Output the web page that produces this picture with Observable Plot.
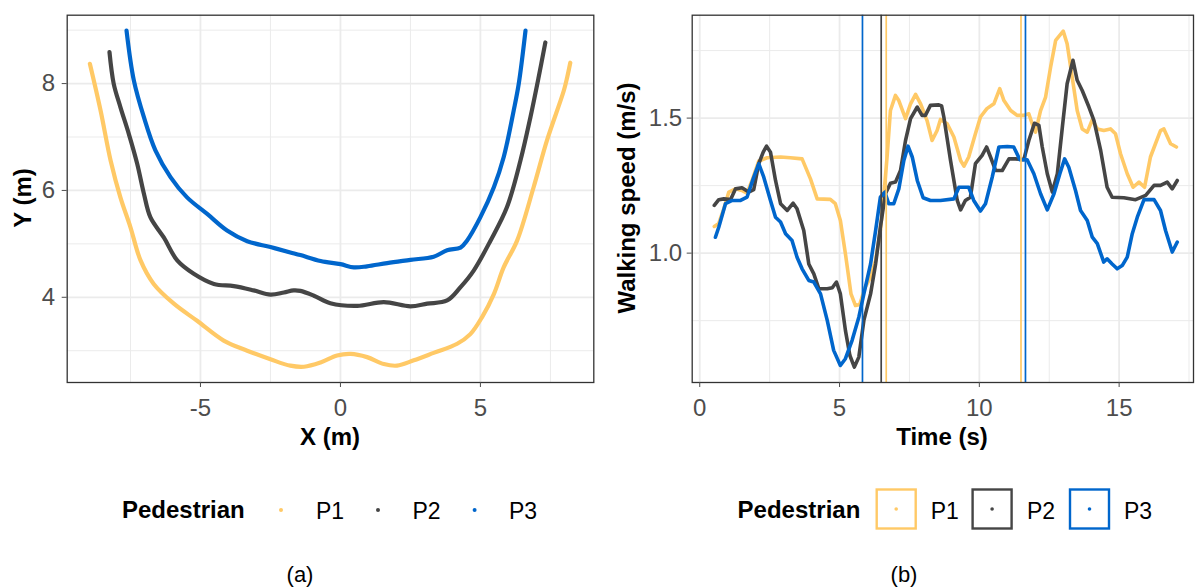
<!DOCTYPE html>
<html>
<head>
<meta charset="utf-8">
<script src="https://cdn.jsdelivr.net/npm/d3@7"></script>
<script src="https://cdn.jsdelivr.net/npm/@observablehq/plot@0.6"></script>
<style>
  html, body { margin: 0; padding: 0; background: #fff; }
  #root { position: relative; width: 1196px; height: 588px; background: #fff; overflow: hidden;
          font-family: "Liberation Sans", Arial, Helvetica, sans-serif; }
  .abs { position: absolute; white-space: nowrap; line-height: 1; }
  .ctr { transform: translate(-50%, -50%); }
  .title { font-weight: bold; font-size: 24px; color: #000; }
  .legtxt { font-size: 23px; color: #000; }
  .cap { font-size: 22px; color: #000; }
</style>
</head>
<body>
<div id="root"></div>
<script>
// ---------------- DATA ----------------
const pedestrians = ["P1", "P2", "P3"];
const pedColors = ["#FFC966", "#454545", "#0066CC"];

// (a) trajectories
const p1TrajX = [-8.95, -8.57, -8.21, -7.86, -7.5, -7.14, -6.67, -5.95, -5.12, -4.17, -3.33, -2.5, -1.79, -1.3, -0.71, -0.12, 0.36, 0.95, 1.55, 2.02, 2.62, 3.33, 4.17, 4.64, 5.06, 5.48, 5.83, 6.31, 6.9, 7.38, 7.98, 8.1, 8.21];
const p1TrajY = [8.37, 7.50, 6.56, 5.87, 5.31, 4.69, 4.25, 3.88, 3.56, 3.19, 3.0, 2.84, 2.72, 2.70, 2.78, 2.91, 2.94, 2.88, 2.75, 2.72, 2.82, 2.96, 3.13, 3.31, 3.63, 4.06, 4.56, 5.06, 6.06, 6.94, 7.87, 8.12, 8.39];
const p2TrajX = [-8.25, -8.1, -7.86, -7.56, -7.26, -7.02, -6.79, -6.31, -5.83, -5.24, -4.52, -3.81, -3.1, -2.5, -2.02, -1.67, -1.43, -0.95, -0.36, 0.6, 1.55, 2.5, 3.1, 3.81, 4.29, 4.76, 5.36, 5.95, 6.43, 6.79, 7.08, 7.32];
const p2TrajY = [8.59, 8.0, 7.56, 7.06, 6.50, 5.94, 5.50, 5.12, 4.69, 4.44, 4.25, 4.21, 4.13, 4.05, 4.09, 4.13, 4.12, 4.03, 3.89, 3.84, 3.91, 3.83, 3.88, 3.94, 4.19, 4.50, 5.06, 5.69, 6.56, 7.38, 8.12, 8.77];
const p3TrajX = [-7.64, -7.38, -7.02, -6.61, -6.07, -5.48, -4.76, -4.05, -3.33, -2.5, -1.79, -1.43, -0.71, 0, 0.48, 0.95, 1.67, 2.5, 3.33, 3.81, 4.29, 4.52, 5.0, 5.48, 5.83, 6.19, 6.37, 6.61];
const p3TrajY = [8.99, 8.06, 7.37, 6.75, 6.25, 5.87, 5.56, 5.25, 5.05, 4.94, 4.84, 4.79, 4.68, 4.62, 4.56, 4.58, 4.64, 4.70, 4.76, 4.88, 4.93, 5.06, 5.50, 6.06, 6.62, 7.50, 8.0, 8.99];

// (b) walking speed
const p1Time = [0.52, 0.68, 0.86, 1.04, 1.28, 1.51, 1.69, 1.87, 2.11, 2.41, 2.89, 3.24, 3.66, 3.96, 4.2, 4.67, 4.85, 5.03, 5.21, 5.41, 5.57, 5.72, 5.92, 6.11, 6.29, 6.46, 6.58, 6.7, 6.82, 7.0, 7.12, 7.36, 7.54, 7.72, 7.9, 8.13, 8.31, 8.49, 8.61, 8.85, 9.09, 9.33, 9.45, 9.62, 9.86, 10.04, 10.27, 10.52, 10.73, 10.88, 11.12, 11.35, 11.59, 11.77, 11.89, 12.01, 12.19, 12.37, 12.55, 12.73, 13.0, 13.14, 13.32, 13.5, 13.68, 13.86, 14.04, 14.22, 14.45, 14.69, 14.87, 15.05, 15.29, 15.5, 15.71, 15.91, 16.12, 16.3, 16.48, 16.6, 16.84, 17.05];
const p1Speed = [1.099, 1.11, 1.164, 1.226, 1.238, 1.232, 1.222, 1.269, 1.341, 1.353, 1.356, 1.353, 1.349, 1.275, 1.201, 1.199, 1.183, 1.121, 0.998, 0.849, 0.806, 0.81, 0.874, 0.911, 0.973, 1.084, 1.207, 1.356, 1.528, 1.584, 1.565, 1.498, 1.553, 1.588, 1.553, 1.491, 1.417, 1.454, 1.495, 1.479, 1.43, 1.343, 1.322, 1.356, 1.442, 1.504, 1.535, 1.553, 1.609, 1.565, 1.528, 1.51, 1.51, 1.516, 1.479, 1.448, 1.528, 1.578, 1.689, 1.788, 1.822, 1.775, 1.652, 1.528, 1.46, 1.448, 1.494, 1.46, 1.454, 1.46, 1.442, 1.368, 1.294, 1.244, 1.263, 1.244, 1.356, 1.405, 1.454, 1.46, 1.405, 1.393];
const p2Time = [0.52, 0.68, 0.86, 1.1, 1.28, 1.51, 1.75, 1.93, 2.11, 2.27, 2.39, 2.53, 2.71, 2.89, 3.13, 3.34, 3.48, 3.72, 3.9, 4.08, 4.26, 4.56, 4.74, 4.89, 5.03, 5.21, 5.37, 5.53, 5.69, 5.87, 6.11, 6.29, 6.46, 6.64, 6.82, 7.0, 7.18, 7.36, 7.54, 7.78, 7.95, 8.07, 8.25, 8.55, 8.65, 8.73, 8.97, 9.21, 9.33, 9.5, 9.68, 9.86, 10.1, 10.26, 10.4, 10.58, 10.82, 11.06, 11.3, 11.59, 11.77, 11.97, 12.13, 12.25, 12.43, 12.61, 12.79, 12.97, 13.14, 13.35, 13.5, 13.68, 13.92, 14.1, 14.34, 14.57, 14.75, 15.17, 15.59, 15.95, 16.25, 16.48, 16.72, 16.9, 17.08];
const p2Speed = [1.177, 1.198, 1.201, 1.198, 1.238, 1.242, 1.226, 1.235, 1.331, 1.374, 1.396, 1.374, 1.269, 1.183, 1.158, 1.185, 1.164, 1.084, 0.96, 0.923, 0.868, 0.868, 0.872, 0.893, 0.849, 0.714, 0.621, 0.578, 0.615, 0.751, 0.849, 0.96, 1.096, 1.22, 1.259, 1.263, 1.306, 1.417, 1.498, 1.541, 1.51, 1.51, 1.547, 1.549, 1.545, 1.504, 1.343, 1.195, 1.16, 1.195, 1.207, 1.331, 1.362, 1.393, 1.356, 1.306, 1.306, 1.349, 1.349, 1.346, 1.417, 1.481, 1.473, 1.393, 1.294, 1.226, 1.294, 1.467, 1.627, 1.714, 1.64, 1.602, 1.541, 1.491, 1.38, 1.244, 1.207, 1.205, 1.198, 1.214, 1.251, 1.251, 1.263, 1.238, 1.269];
const p3Time = [0.56, 0.68, 0.92, 1.16, 1.46, 1.69, 1.91, 2.11, 2.29, 2.53, 2.71, 2.89, 3.07, 3.3, 3.48, 3.66, 3.9, 4.08, 4.32, 4.56, 4.79, 5.03, 5.21, 5.45, 5.69, 5.87, 6.11, 6.29, 6.46, 6.62, 6.76, 6.94, 7.12, 7.3, 7.45, 7.6, 7.78, 7.99, 8.25, 8.61, 9.09, 9.27, 9.62, 9.8, 10.04, 10.22, 10.46, 10.7, 11.0, 11.23, 11.45, 11.71, 11.95, 12.19, 12.43, 12.67, 12.88, 13.05, 13.2, 13.44, 13.62, 13.86, 14.04, 14.22, 14.45, 14.57, 14.75, 14.93, 15.11, 15.29, 15.47, 15.65, 15.89, 16.25, 16.48, 16.66, 16.9, 17.08];
const p3Speed = [1.059, 1.096, 1.183, 1.195, 1.195, 1.207, 1.275, 1.331, 1.281, 1.195, 1.133, 1.115, 1.072, 1.047, 0.985, 0.942, 0.899, 0.893, 0.849, 0.751, 0.64, 0.584, 0.609, 0.677, 0.763, 0.849, 0.96, 1.084, 1.207, 1.226, 1.183, 1.183, 1.238, 1.343, 1.396, 1.356, 1.269, 1.205, 1.195, 1.195, 1.201, 1.244, 1.244, 1.195, 1.156, 1.183, 1.281, 1.393, 1.395, 1.393, 1.346, 1.346, 1.294, 1.22, 1.16, 1.22, 1.294, 1.349, 1.318, 1.232, 1.158, 1.121, 1.059, 1.035, 0.967, 0.979, 0.96, 0.942, 0.954, 0.985, 1.072, 1.133, 1.198, 1.198, 1.158, 1.084, 1.004, 1.041];

// vertical reference lines in (b)
const vlineTime = [5.82, 6.49, 6.67, 11.49, 11.65];
const vlinePed = ["P3", "P2", "P1", "P1", "P3"];

// ticks
const xTicksA = [-5, 0, 5], xMinorA = [-7.5, -2.5, 2.5, 7.5];
const yTicksA = [4, 6, 8], yMinorA = [3, 5, 7, 9];
const xTicksB = [0, 5, 10, 15], xMinorB = [2.5, 7.5, 12.5, 17.5];
const yTicksB = [1.0, 1.5], yMinorB = [0.75, 1.25, 1.75];

// --------------- BUILD ---------------
const traj = [
  ...p1TrajX.map((x, i) => ({ped: "P1", x, y: p1TrajY[i]})),
  ...p2TrajX.map((x, i) => ({ped: "P2", x, y: p2TrajY[i]})),
  ...p3TrajX.map((x, i) => ({ped: "P3", x, y: p3TrajY[i]}))
];
const speed = [
  ...p1Time.map((t, i) => ({ped: "P1", t, v: p1Speed[i]})),
  ...p2Time.map((t, i) => ({ped: "P2", t, v: p2Speed[i]})),
  ...p3Time.map((t, i) => ({ped: "P3", t, v: p3Speed[i]}))
];
const vlines = vlineTime.map((t, i) => ({t, ped: vlinePed[i]}));

const FONT = '"Liberation Sans", Arial, Helvetica, sans-serif';
const TICKFS = 24;
const colorScale = {domain: pedestrians, range: pedColors};
const gridMinor = {stroke: "#EBEBEB", strokeOpacity: 1, strokeWidth: 1};
const gridMajor = {stroke: "#EBEBEB", strokeOpacity: 1, strokeWidth: 1.8};
const baseStyle = {fontFamily: FONT, fontSize: TICKFS + "px", color: "#4D4D4D", background: "transparent", overflow: "visible"};
const plainFmt = d => String(d);

const root = document.getElementById("root");

const chartA = Plot.plot({
  width: 600, height: 430,
  marginLeft: 66.7, marginRight: 6.7, marginTop: 14.7, marginBottom: 48,
  x: {domain: [-9.76, 9.05]},
  y: {domain: [2.405, 9.28]},
  color: colorScale,
  style: baseStyle,
  marks: [
    Plot.gridX(xMinorA, gridMinor),
    Plot.gridY(yMinorA, gridMinor),
    Plot.gridX(xTicksA, gridMajor),
    Plot.gridY(yTicksA, gridMajor),
    Plot.line(traj, {x: "x", y: "y", z: "ped", stroke: "ped", strokeWidth: 4.2, curve: "catmull-rom"}),
    Plot.frame({stroke: "#333333", strokeWidth: 1.3}),
    Plot.axisX(xTicksA, {tickSize: 5, tickPadding: 11, label: null, fontSize: TICKFS, tickFormat: plainFmt}),
    Plot.axisY(yTicksA, {tickSize: 5, tickPadding: 7, label: null, fontSize: TICKFS, tickFormat: plainFmt})
  ]
});
chartA.style.position = "absolute";
chartA.style.left = "0px";
chartA.style.top = "0px";
root.appendChild(chartA);

const chartB = Plot.plot({
  width: 596, height: 430,
  marginLeft: 91.7, marginRight: 3, marginTop: 14.7, marginBottom: 48,
  x: {domain: [-0.27, 17.66]},
  y: {domain: [0.521, 1.881]},
  color: colorScale,
  style: baseStyle,
  marks: [
    Plot.gridX(xMinorB, gridMinor),
    Plot.gridY(yMinorB, gridMinor),
    Plot.gridX(xTicksB, gridMajor),
    Plot.gridY(yTicksB, gridMajor),
    Plot.line(speed, {x: "t", y: "v", z: "ped", stroke: "ped", strokeWidth: 3.6, curve: "linear"}),
    Plot.ruleX(vlines, {x: "t", stroke: "ped", strokeWidth: 1.7}),
    Plot.frame({stroke: "#333333", strokeWidth: 1.3}),
    Plot.axisX(xTicksB, {tickSize: 5, tickPadding: 11, label: null, fontSize: TICKFS, tickFormat: plainFmt}),
    Plot.axisY(yTicksB, {tickSize: 5, tickPadding: 5, label: null, fontSize: TICKFS, tickFormat: d3.format(".1f")})
  ]
});
chartB.style.position = "absolute";
chartB.style.left = "600px";
chartB.style.top = "0px";
root.appendChild(chartB);

// --------------- TEXT (titles, legends, captions) ---------------
function addText(txt, cls, x, y, rotate) {
  const d = document.createElement("div");
  d.className = "abs ctr " + cls;
  d.textContent = txt;
  d.style.left = x + "px";
  d.style.top = y + "px";
  if (rotate) d.style.transform = "translate(-50%, -50%) rotate(-90deg)";
  root.appendChild(d);
  return d;
}
addText("X (m)", "title", 330, 437);
addText("Y (m)", "title", 23, 198, true);
addText("Time (s)", "title", 942, 437);
addText("Walking speed (m/s)", "title", 627, 198, true);
addText("(a)", "cap", 300, 575);
addText("(b)", "cap", 904, 575);

// legends
function addLeft(txt, cls, x, y) {
  const d = document.createElement("div");
  d.className = "abs " + cls;
  d.textContent = txt;
  d.style.left = x + "px";
  d.style.top = y + "px";
  d.style.transform = "translateY(-50%)";
  root.appendChild(d);
}
const legY = 510;
addLeft("Pedestrian", "title", 122, legY);
const dotXA = [281, 378, 474.6], labXA = [316, 412.5, 509];
const boxXB = [876.7, 972.6, 1070], labXB = [930.7, 1027, 1124];

const svgNS = "http://www.w3.org/2000/svg";
const legSvg = document.createElementNS(svgNS, "svg");
legSvg.setAttribute("width", 1196);
legSvg.setAttribute("height", 588);
legSvg.style.position = "absolute";
legSvg.style.left = "0px";
legSvg.style.top = "0px";
legSvg.style.pointerEvents = "none";
root.appendChild(legSvg);
pedestrians.forEach((p, i) => {
  const c = document.createElementNS(svgNS, "circle");
  c.setAttribute("cx", dotXA[i]); c.setAttribute("cy", legY);
  c.setAttribute("r", 2); c.setAttribute("fill", pedColors[i]);
  legSvg.appendChild(c);
  addLeft(p, "legtxt", labXA[i], legY + 1);

  const r = document.createElementNS(svgNS, "rect");
  r.setAttribute("x", boxXB[i]); r.setAttribute("y", 489.5);
  r.setAttribute("width", 39); r.setAttribute("height", 39);
  r.setAttribute("fill", "white"); r.setAttribute("stroke", pedColors[i]);
  r.setAttribute("stroke-width", 2.4);
  legSvg.appendChild(r);
  const c2 = document.createElementNS(svgNS, "circle");
  c2.setAttribute("cx", boxXB[i] + 19.5); c2.setAttribute("cy", 509);
  c2.setAttribute("r", 1.8); c2.setAttribute("fill", pedColors[i]);
  legSvg.appendChild(c2);
  addLeft(p, "legtxt", labXB[i], legY + 1);
});
addLeft("Pedestrian", "title", 737.6, legY);
</script>
</body>
</html>
